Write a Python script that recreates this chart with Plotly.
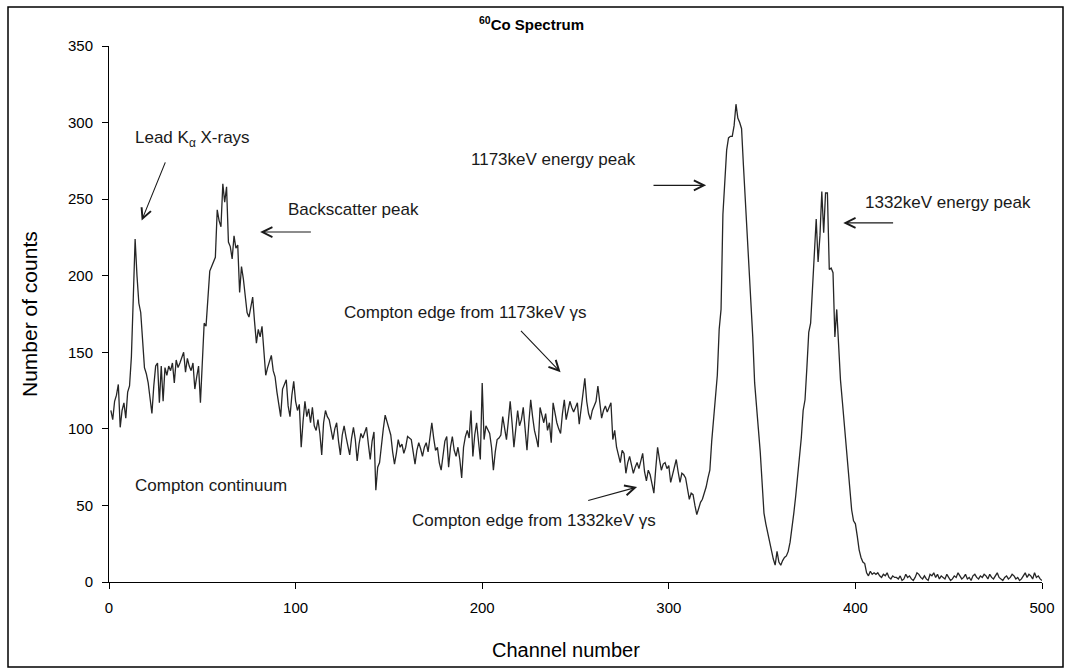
import plotly.graph_objects as go

# ---------------- data ----------------
channels = list(range(1, 501))
counts = [
    112, 106, 118, 122, 129, 101, 112, 117, 107, 124,
    128, 147, 185, 224, 200, 182, 176, 160, 140, 136,
    130, 120, 110, 128, 141, 143, 117, 141, 118, 140,
    135, 141, 138, 143, 130, 145, 140, 143, 147, 150,
    137, 146, 141, 138, 143, 126, 134, 141, 117, 145,
    169, 167, 185, 203, 206, 209, 212, 243, 236, 232,
    260, 248, 258, 222, 219, 211, 226, 218, 220, 189,
    206, 198, 186, 176, 173, 180, 186, 170, 156, 165,
    160, 167, 152, 135, 140, 145, 148, 138, 134, 124,
    116, 108, 126, 129, 132, 115, 108, 122, 131, 118,
    112, 116, 88, 105, 118, 108, 113, 104, 114, 102,
    99, 106, 97, 83, 104, 112, 108, 106, 98, 93,
    100, 104, 92, 83, 96, 102, 95, 88, 83, 94,
    101, 93, 79, 90, 97, 94, 98, 101, 90, 80,
    92, 98, 60, 75, 78, 90, 100, 109, 104, 99,
    96, 85, 77, 84, 93, 88, 90, 84, 88, 95,
    94, 93, 85, 77, 86, 91, 87, 82, 88, 91,
    85, 96, 104, 94, 86, 88, 78, 73, 84, 92,
    95, 75, 88, 95, 86, 82, 88, 80, 68, 88,
    95, 99, 94, 112, 82, 96, 104, 92, 80, 130,
    93, 102, 99, 97, 88, 73, 85, 93, 94, 96,
    108, 100, 93, 105, 118, 104, 88, 100, 112, 102,
    106, 114, 100, 86, 104, 119, 108, 99, 94, 88,
    114, 108, 104, 110, 99, 104, 91, 117, 110, 104,
    100, 97, 110, 119, 106, 112, 118, 114, 111, 114,
    117, 103, 112, 122, 133, 118, 110, 106, 112, 115,
    118, 128, 116, 107, 112, 115, 111, 114, 117, 93,
    99, 88, 83, 78, 86, 84, 71, 78, 82, 76,
    71, 75, 78, 74, 80, 84, 72, 66, 73, 70,
    64, 58, 74, 88, 80, 73, 77, 78, 74, 76,
    65, 70, 76, 80, 72, 65, 71, 70, 68, 62,
    54, 58, 57, 50, 44, 48, 52, 54, 58, 62,
    68, 73, 92, 108, 122, 135, 165, 178, 240, 265,
    282, 290, 291, 291, 298, 312, 303, 300, 296, 272,
    250, 230, 210, 185, 160, 130, 112, 100, 85, 62,
    45, 38, 32, 25, 20, 15, 11, 20, 13, 11,
    14, 16, 17, 20, 26, 34, 45, 56, 68, 80,
    94, 112, 119, 140, 163, 169, 195, 215, 237, 209,
    226, 255, 228, 254, 254, 204, 205, 202, 160, 178,
    150, 132, 118, 104, 88, 72, 58, 47, 40, 38,
    30, 21, 16, 13, 12, 6, 4, 7, 5, 6,
    5, 6, 4, 3, 5, 4, 6, 3, 2, 4,
    3, 3, 2, 4, 1, 2, 5, 3, 4, 2,
    1, 3, 6, 5, 3, 2, 4, 2, 1, 5,
    4, 6, 3, 5, 2, 4, 3, 2, 5, 3,
    1, 2, 4, 3, 6, 4, 2, 3, 5, 2,
    3, 1, 4, 5, 3, 2, 4, 3, 5, 4,
    2, 5, 3, 2, 4, 6, 3, 2, 1, 3,
    4, 2, 3, 5, 4, 2, 3, 1, 2, 4,
    6, 3, 5, 4, 2, 6, 3, 4, 2, 1,
]
x_ticks = [0, 100, 200, 300, 400, 500]
y_ticks = [0, 50, 100, 150, 200, 250, 300, 350]

title_text = "<b><sup>60</sup>Co Spectrum</b>"
x_title = "Channel number"
y_title = "Number of counts"

# labels: (text, x, y, xanchor)
labels = [
    ("Lead K<sub>α</sub> X-rays", 13, 289, "left"),
    ("Backscatter peak", 95, 243, "left"),
    ("Compton edge from 1173keV γs", 125, 176, "left"),
    ("Compton edge from 1332keV γs", 294, 40, "right"),
    ("Compton continuum", 13, 63, "left"),
    ("1173keV energy peak", 193, 276, "left"),
    ("1332keV energy peak", 404, 248, "left"),
]
# arrows: (head_x, head_y, tail_x, tail_y)
arrows = [
    (17.5, 236, 30.5, 275),
    (81, 228.5, 109, 228.5),
    (242, 137, 220, 165),
    (283, 62, 256, 53),
    (320, 259, 291, 259),
    (393.5, 234.5, 421, 234.5),
]

# ---------------- figure ----------------
W, H = 1070, 672
ML, MR, MT, MB = 109, 28, 46, 90
PW, PH = W - ML - MR, H - MT - MB

def px_to_paper_x(px):
    return (px - ML) / PW

def py_to_paper_y(py):
    return (H - MB - py) / PH

fig = go.Figure()
fig.add_trace(go.Scatter(
    x=channels, y=counts, mode="lines",
    line=dict(color="#262626", width=1.3),
    hoverinfo="skip", showlegend=False,
))

font_main = "Arial, Liberation Sans, Helvetica, sans-serif"
ann = []
for text, x, y, xa in labels:
    ann.append(dict(x=x, y=y, xref="x", yref="y", text=text, showarrow=False,
                    xanchor=xa, yanchor="middle",
                    font=dict(family=font_main, size=17, color="#1a1a1a")))
for hx, hy, tx, ty in arrows:
    ann.append(dict(x=hx, y=hy, xref="x", yref="y", ax=tx, ay=ty,
                    axref="x", ayref="y", text="", showarrow=True,
                    arrowhead=5, arrowsize=1.8, arrowwidth=1.1,
                    arrowcolor="#1a1a1a", standoff=0))
ann.append(dict(x=px_to_paper_x(531), y=py_to_paper_y(24), xref="paper", yref="paper",
                text=title_text, showarrow=False, xanchor="center", yanchor="middle",
                font=dict(family=font_main, size=15, color="black")))
ann.append(dict(x=px_to_paper_x(566), y=py_to_paper_y(650), xref="paper", yref="paper",
                text=x_title, showarrow=False, xanchor="center", yanchor="middle",
                font=dict(family=font_main, size=20, color="black")))
ann.append(dict(x=px_to_paper_x(29), y=py_to_paper_y(314), xref="paper", yref="paper",
                text=y_title, showarrow=False, xanchor="center", yanchor="middle",
                textangle=-90,
                font=dict(family=font_main, size=21, color="black")))

fig.update_layout(
    width=W, height=H,
    margin=dict(l=ML, r=MR, t=MT, b=MB),
    paper_bgcolor="white", plot_bgcolor="white",
    annotations=ann,
    shapes=[dict(type="rect", xref="paper", yref="paper",
                 x0=px_to_paper_x(8), x1=px_to_paper_x(1063),
                 y0=py_to_paper_y(667), y1=py_to_paper_y(7),
                 line=dict(color="black", width=1.5), fillcolor="rgba(0,0,0,0)")],
)
fig.update_xaxes(range=[0, 500], tickvals=x_ticks, ticks="outside", ticklen=6,
                 tickcolor="black", showline=True, linecolor="black", linewidth=1,
                 showgrid=False, zeroline=False, ticklabelstandoff=6,
                 tickfont=dict(family=font_main, size=15, color="black"))
fig.update_yaxes(range=[0, 350], tickvals=y_ticks, ticks="outside", ticklen=6,
                 tickcolor="black", showline=True, linecolor="black", linewidth=1,
                 showgrid=False, zeroline=False, ticklabelstandoff=6,
                 tickfont=dict(family=font_main, size=15, color="black"))

fig.write_html("out.html")
